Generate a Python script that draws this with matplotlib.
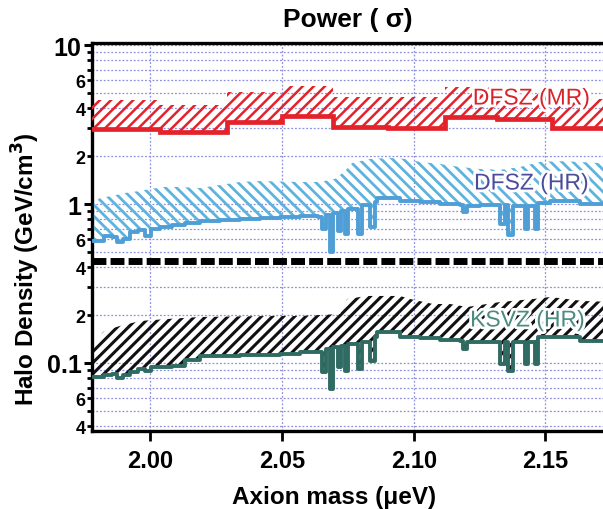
import numpy as np
import matplotlib
matplotlib.use('Agg')
import matplotlib.pyplot as plt
from matplotlib.ticker import FixedLocator, FixedFormatter
import matplotlib.patheffects as pe

plt.rcParams['font.family'] = ['Liberation Sans', 'DejaVu Sans']
plt.rcParams['hatch.linewidth'] = 2.0

# ---------------- data ----------------
# DFSZ (MR): step segments
mr_edges = [1.9778, 2.0036, 2.0291, 2.0500, 2.0693, 2.0903, 2.1119, 2.1317, 2.1526, 2.1760]
mr_low = [2.96, 2.84, 3.28, 3.58, 3.05, 3.01, 3.53, 3.42, 3.01]
mr_up = [4.51, 4.19, 5.06, 5.52, 4.71, 4.71, 5.44, 5.14, 4.57]

# HR scans: common mass grid for the limit lines (step drawn)
hr_x = [1.9785, 1.9823, 1.9854, 1.9873, 1.9896, 1.9922, 1.9953, 1.9979, 2.0002, 2.0036,
        2.0082, 2.0131, 2.0188, 2.0264, 2.0340, 2.0416, 2.0492, 2.0568, 2.0637, 2.0652,
        2.0667, 2.0682, 2.0693, 2.0713, 2.0724, 2.0739, 2.0751, 2.0789, 2.0804, 2.0834,
        2.0853, 2.0861, 2.0948, 2.1024, 2.1100, 2.1176, 2.1188, 2.1203, 2.1252, 2.1328,
        2.1347, 2.1359, 2.1378, 2.1423, 2.1434, 2.1461, 2.1473, 2.1518, 2.1632, 2.1760]
dfsz_hr_low = [0.585, 0.629, 0.620, 0.577, 0.602, 0.667, 0.686, 0.629, 0.696, 0.717,
               0.738, 0.759, 0.782, 0.793, 0.805, 0.817, 0.828, 0.841, 0.828, 0.696,
               0.853, 0.499, 0.878, 0.676, 0.903, 0.648, 0.930, 0.648, 0.986, 0.717,
               1.029, 1.091, 1.044, 1.029, 1.000, 0.986, 0.891, 0.971, 0.986, 0.748,
               0.986, 0.638, 0.971, 0.696, 0.971, 0.696, 1.015, 1.044, 1.000, 0.957]
ksvz_low = [0.0817, 0.0840, 0.0853, 0.0805, 0.0840, 0.0878, 0.0917, 0.0891, 0.0944, 0.0944,
            0.0957, 0.1044, 0.1107, 0.1107, 0.1123, 0.1123, 0.1139, 0.1173, 0.1173, 0.0878,
            0.1225, 0.0686, 0.1261, 0.0944, 0.1279, 0.0891, 0.1317, 0.0917, 0.1356, 0.1029,
            0.1457, 0.1567, 0.1457, 0.1436, 0.1396, 0.1375, 0.1225, 0.1356, 0.1356, 0.0986,
            0.1356, 0.0891, 0.1356, 0.0986, 0.1356, 0.0986, 0.1457, 0.1457, 0.1375, 0.1356]

dfsz_hr_up_x = [1.9785, 1.9808, 1.9854, 1.9903, 1.9960, 1.9998, 2.0055, 2.0112, 2.0188, 2.0264,
                2.0340, 2.0416, 2.0568, 2.0644, 2.0701, 2.0739, 2.0766, 2.0834, 2.0910, 2.0967,
                2.1024, 2.1100, 2.1176, 2.1252, 2.1328, 2.1404, 2.1480, 2.1556, 2.1632, 2.1760]
dfsz_hr_up = [1.015, 1.091, 1.123, 1.173, 1.207, 1.243, 1.28, 1.28, 1.26, 1.317,
              1.375, 1.395, 1.375, 1.375, 1.44, 1.61, 1.81, 1.92, 1.95, 1.92,
              1.84, 1.785, 1.71, 1.66, 1.64, 1.71, 1.84, 1.86, 1.84, 1.785]

ksvz_up_x = [1.9785, 1.9820, 1.9846, 1.9884, 1.9960, 2.0063, 2.0188, 2.0443, 2.0568, 2.0720,
             2.0747, 2.0823, 2.0948, 2.0986, 2.1073, 2.1138, 2.1203, 2.1328, 2.1454, 2.1518,
             2.1643, 2.1760]
ksvz_up = [0.1279, 0.1567, 0.1636, 0.1709, 0.1837, 0.1891, 0.1947, 0.1975, 0.1975, 0.2033,
           0.2527, 0.264, 0.264, 0.2527, 0.235, 0.235, 0.225, 0.2418, 0.2527, 0.260,
           0.2455, 0.2418]

divider_level = 0.44
x_ticks = [2.00, 2.05, 2.10, 2.15]
x_ticklabels = ['2.00', '2.05', '2.10', '2.15']
y_major = [0.1, 1, 10]
y_major_labels = ['0.1', '1', '10']
labels = ['DFSZ (MR)', 'DFSZ (HR)', 'KSVZ (HR)']

# ---------------- figure ----------------
fig = plt.figure(figsize=(6.03, 5.10), dpi=100)
ax = fig.add_axes([92/603, 1-432/510, 1-92/603, (432-43.5)/510])
ax.set_yscale('log')
ax.set_xlim(1.9778, 2.1719)
ax.set_ylim(0.03735, 10.37)

RED = '#e3222b'
BLUE_LINE = '#4f9fd6'
BLUE_HATCH = '#5cb4de'
TEAL = '#2f6b62'


def step_path(x, y):
    x = np.asarray(x); y = np.asarray(y)
    return np.repeat(x, 2)[1:], np.repeat(y, 2)[:-1]


def seg_path(edges, vals):
    e = np.asarray(edges); v = np.asarray(vals)
    return np.repeat(e, 2)[1:-1], np.repeat(v, 2)


# DFSZ (MR)
lx, ly = seg_path(mr_edges, mr_low)
ux, uy = seg_path(mr_edges, mr_up)
with plt.rc_context({'hatch.linewidth': 1.8}):
    ax.fill(np.concatenate([ux, lx[::-1]]), np.concatenate([uy, ly[::-1]]),
            facecolor='none', edgecolor=RED, hatch='///', linewidth=0, zorder=3)
ax.plot(lx, ly, color=RED, lw=3.4, zorder=4, solid_joinstyle='miter')

# DFSZ (HR)
lx, ly = step_path(hr_x, dfsz_hr_low)
with plt.rc_context({'hatch.linewidth': 2.0}):
    ax.fill(np.concatenate([dfsz_hr_up_x, lx[::-1]]), np.concatenate([dfsz_hr_up, ly[::-1]]),
            facecolor='none', edgecolor=BLUE_HATCH, hatch='\\\\\\', linewidth=0, zorder=3)
ax.plot(lx, ly, color=BLUE_LINE, lw=2.8, zorder=4)

# KSVZ (HR)
lx, ly = step_path(hr_x, ksvz_low)
with plt.rc_context({'hatch.linewidth': 2.2}):
    ax.fill(np.concatenate([ksvz_up_x, lx[::-1]]), np.concatenate([ksvz_up, ly[::-1]]),
            facecolor='none', edgecolor='#111111', hatch='///', linewidth=0, zorder=3)
ax.plot(lx, ly, color=TEAL, lw=2.8, zorder=4)

# divider
ax.axhline(divider_level, color='black', lw=5, linestyle=(0, (2.0, 0.6)), zorder=5)

# labels on bands
stroke = [pe.withStroke(linewidth=4, foreground='white')]
ax.text(2.1446, 4.64, labels[0], color='#d8232c', fontsize=16.5, ha='center', va='center',
        path_effects=stroke, zorder=6)
ax.text(2.1446, 1.355, labels[1], color='#4b4c9c', fontsize=16.5, ha='center', va='center',
        path_effects=stroke, zorder=6)
ax.text(2.1431, 0.1864, labels[2], color='#4c8b80', fontsize=16.5, ha='center', va='center',
        path_effects=stroke, zorder=6)

# ticks
ax.xaxis.set_major_locator(FixedLocator(x_ticks))
ax.xaxis.set_major_formatter(FixedFormatter(x_ticklabels))
ax.xaxis.set_minor_locator(FixedLocator([]))
ax.yaxis.set_major_locator(FixedLocator(y_major))
ax.yaxis.set_major_formatter(FixedFormatter(y_major_labels))
minor_vals, minor_labs = [], []
for d in [0.01, 0.1, 1]:
    for k in range(2, 10):
        minor_vals.append(k * d)
        minor_labs.append(str(k) if k in (2, 4, 6) else '')
ax.yaxis.set_minor_locator(FixedLocator(minor_vals))
ax.yaxis.set_minor_formatter(FixedFormatter(minor_labs))

ax.tick_params(axis='x', which='major', direction='out', length=7, width=2,
               labelsize=17, pad=6)
ax.tick_params(axis='y', which='major', direction='out', length=6, width=2.2,
               labelsize=18, pad=1.5)
ax.tick_params(axis='y', which='minor', direction='out', length=3.5, width=2,
               labelsize=13, pad=1)
for lab in ax.get_xticklabels() + ax.get_yticklabels() + ax.get_yticklabels(minor=True):
    lab.set_fontweight('bold')

ax.grid(which='both', axis='y', color='#8f8fe0', linestyle=(0, (1.5, 1.5)), lw=0.9, zorder=1)
ax.grid(which='major', axis='x', color='#8f8fe0', linestyle=(0, (1.5, 1.5)), lw=0.9, zorder=1)
ax.set_axisbelow(True)

for s in ['left', 'top', 'bottom']:
    ax.spines[s].set_linewidth(2.4)
ax.spines['right'].set_visible(False)

ax.set_title('Power ( σ)', fontsize=19, fontweight='bold', pad=12)
ax.set_xlabel('Axion mass (μeV)', fontsize=17.5, fontweight='bold')
ax.xaxis.set_label_coords(0.474, -0.14)
ax.set_ylabel('Halo Density (GeV/cm$^\\mathbf{3}$)', fontsize=17.5, fontweight='bold')
ax.yaxis.set_label_coords(-0.098, 0.42)

fig.savefig('out.png', dpi=100)
